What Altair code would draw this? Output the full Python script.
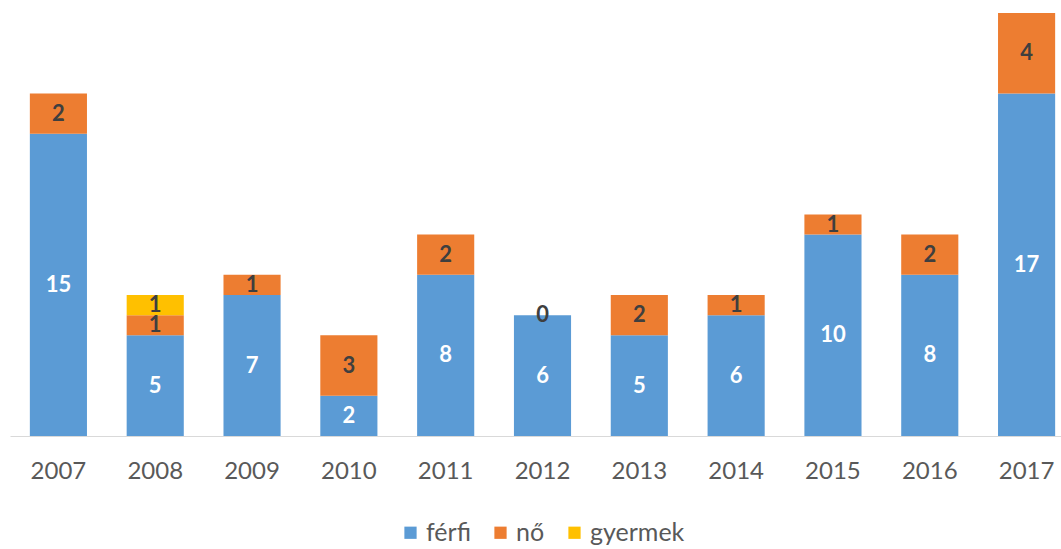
import altair as alt
import pandas as pd

years = ["2007", "2008", "2009", "2010", "2011", "2012", "2013", "2014", "2015", "2016", "2017"]
ferfi = [15, 5, 7, 2, 8, 6, 5, 6, 10, 8, 17]
no = [2, 1, 1, 3, 2, 0, 2, 1, 1, 2, 4]
gyermek = [0, 1, 0, 0, 0, 0, 0, 0, 0, 0, 0]
series = ["férfi", "nő", "gyermek"]
colors = ["#5B9BD5", "#ED7D31", "#FFC000"]

rows = []
for i, y in enumerate(years):
    for k, (name, vals) in enumerate(zip(series, [ferfi, no, gyermek])):
        rows.append({"year": y, "series": name, "value": vals[i], "ord": k,
                     "show": (name != "gyermek") or vals[i] > 0})
df = pd.DataFrame(rows)

FONT = "Lato"

x_enc = alt.X("year:N", sort=years,
              scale=alt.Scale(range=[0, 1065], paddingInner=0.41, paddingOuter=0.205),
              axis=alt.Axis(title=None, labelAngle=0, ticks=False, domainColor="#d9d9d9",
                            domainWidth=1.2, labelFont=FONT, labelFontSize=24,
                            labelColor="#595959", labelPadding=23, grid=False))

base = alt.Chart(df).transform_stack(
    stack="value", groupby=["year"], as_=["y0", "y1"],
    sort=[alt.SortField("ord", order="ascending")]
)

bars = base.mark_bar().encode(
    x=x_enc,
    y=alt.Y("y0:Q", scale=alt.Scale(domain=[0, 21], nice=False), axis=None),
    y2="y1:Q",
    color=alt.Color("series:N", sort=series,
                    scale=alt.Scale(domain=series, range=colors),
                    legend=alt.Legend(title=None, orient="none", direction="horizontal",
                                      legendX=388, legendY=507, symbolType="square",
                                      symbolSize=150, symbolStrokeWidth=0,
                                      labelFont=FONT, labelFontSize=25,
                                      labelColor="#595959", labelOffset=3,
                                      columnPadding=17)),
)

labels = base.transform_filter("datum.show").transform_calculate(
    mid="(datum.y0 + datum.y1) / 2"
).mark_text(font=FONT, fontSize=22, fontWeight="bold", baseline="middle").encode(
    x=alt.X("year:N", sort=years),
    y=alt.Y("mid:Q", axis=None),
    text=alt.Text("value:Q"),
    color=alt.condition("datum.series == 'férfi'", alt.value("white"), alt.value("#3f3f3f")),
)

chart = alt.layer(bars, labels).properties(
    width=1051, height=423,
    background="white",
    autosize=alt.AutoSizeParams(type="none"),
    padding={"left": 10, "top": 13, "right": 0, "bottom": 113},
).configure_view(stroke=None, strokeWidth=0)

chart.save("out.html", embed_options={"renderer": "svg", "actions": False})
